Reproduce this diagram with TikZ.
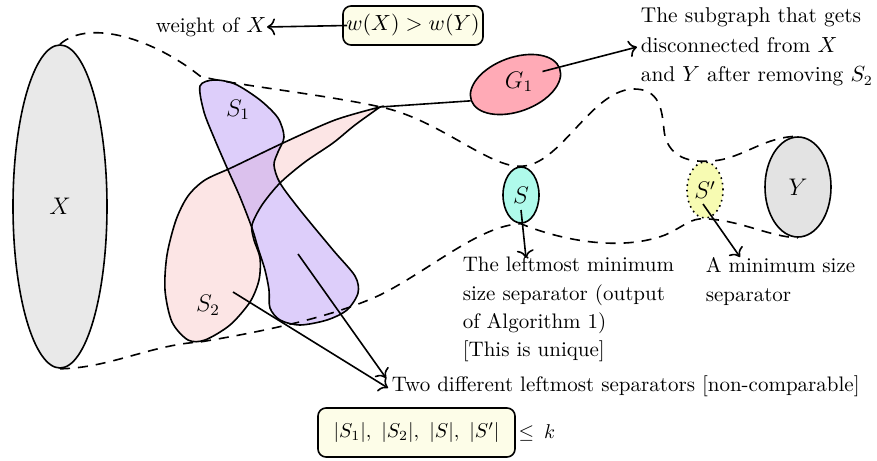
\documentclass[tikz,border=0pt]{standalone}
\usetikzlibrary{shapes.geometric,arrows.meta}
\definecolor{xgray}{RGB}{233,233,233}
\definecolor{ygray}{RGB}{227,227,227}
\definecolor{scyan}{RGB}{175,250,235}
\definecolor{spyel}{RGB}{247,251,178}
\definecolor{gpink}{RGB}{255,170,182}
\definecolor{stwo}{RGB}{252,229,229}
\definecolor{sone}{RGB}{188,158,245}
\definecolor{boxfill}{RGB}{253,253,232}
\begin{document}
\begin{tikzpicture}[x=0.5pt,y=-0.5pt,
  font=\fontsize{10.5}{14.2}\selectfont,
  line width=0.8pt,
  region/.style={ellipse, draw, inner sep=0pt, font=\fontsize{12}{14}\selectfont},
  arr/.style={-{To[scale=1.2]}},
  bound/.style={dash pattern=on 5pt off 4pt},
  note/.style={inner sep=0pt, align=left},
  cbox/.style={draw, rounded corners=4pt, fill=boxfill, inner sep=0pt}]
\useasboundingbox (0,0) rectangle (877,460);

% regions
\node[region, fill=xgray, minimum width=47pt, minimum height=161.5pt] (X) at (60,206.5) {$X$};
\node[region, fill=ygray, minimum width=33pt, minimum height=50pt] (Y) at (798,187) {$Y$};
\node[region, fill=scyan, minimum width=18pt, minimum height=28pt] (S) at (521,195) {$S$};
\node[region, fill=spyel, dotted, minimum width=18pt, minimum height=28pt] (Sp) at (705,190) {$S'$};
\node[region, fill=gpink, minimum width=47pt, minimum height=27pt, rotate=20] (G1) at (515.5,84.5) {};
\node[font=\fontsize{11.5}{14}\selectfont] (G1lab) at (519,82) {$G_1$};

% S2 and S1 fills
\fill[stwo] plot[smooth] coordinates {(380,107) (355,125) (333,143) (305,162) (280,183) (262,205) (252,225) (254,240) (260,258) (259,280) (250,302) (230,325) (205,340) (188,340) (172,322) (165,290) (167,255) (176,220) (188,196) (205,180) (233,167) (283,143) (335,120) (380,107)} -- cycle;
\fill[sone, fill opacity=0.5] plot[smooth cycle] coordinates {(200,86) (214,80) (235,84) (260,100) (278,118) (284,137) (278,152) (274,165) (280,183) (300,210) (333,250) (355,276) (358,293) (347,310) (327,320) (300,325) (280,320) (270,308) (269,290) (265,270) (258,248) (252,228) (240,197) (228,170) (215,140) (204,112)};
% outlines
\draw plot[smooth] coordinates {(380,107) (355,125) (333,143) (305,162) (280,183) (262,205) (252,225) (254,240) (260,258) (259,280) (250,302) (230,325) (205,340) (188,340) (172,322) (165,290) (167,255) (176,220) (188,196) (205,180) (233,167) (283,143) (335,120) (380,107)} -- cycle;
\draw plot[smooth cycle] coordinates {(200,86) (214,80) (235,84) (260,100) (278,118) (284,137) (278,152) (274,165) (280,183) (300,210) (333,250) (355,276) (358,293) (347,310) (327,320) (300,325) (280,320) (270,308) (269,290) (265,270) (258,248) (252,228) (240,197) (228,170) (215,140) (204,112)};
\node[font=\fontsize{11.5}{14}\selectfont] (s1lab) at (238,110) {$S_1$};
\node[font=\fontsize{11.5}{14}\selectfont] (s2lab) at (208,305) {$S_2$};

% dashed boundaries
\draw[bound] (X.north) .. controls (90,18) and (155,40) .. (200,76)
  .. controls (225,84) and (330,95) .. (385,108)
  .. controls (440,121) and (490,168) .. (S.north)
  .. controls (560,166) and (590,92) .. (632,89)
  .. controls (660,88) and (662,110) .. (664,130)
  .. controls (666,150) and (680,162) .. (Sp.north)
  .. controls (740,162) and (760,137) .. (Y.north);
\draw[bound] (X.south) .. controls (110,368) and (150,345) .. (200,342)
  .. controls (260,332) and (330,318) .. (380,295)
  .. controls (430,270) and (480,225) .. (S.south)
  .. controls (560,240) and (620,252) .. (665,235)
  .. controls (685,226) and (690,218) .. (Sp.south)
  .. controls (740,220) and (770,237) .. (Y.south);

% boxes and notes
\node[cbox, minimum width=70pt, minimum height=19.5pt] (wbox) at (413,25.5) {$w(X) > w(Y)$};
\node[anchor=east, inner sep=0pt] (wof) at (267,27) {weight of $X$};
\node[note, anchor=north west, font=\fontsize{10.7}{14.8}\selectfont] (sub) at (640,7) {The subgraph that gets\\disconnected from $X$\\and $Y$ after removing $S_2$};
\node[note, anchor=north west] (lm) at (462,256) {The leftmost minimum\\size separator (output\\of Algorithm 1)\\{}[This is unique]};
\node[note, anchor=north west] (ms) at (705,257) {A minimum size\\separator};
\node[anchor=west, inner sep=0pt] (two) at (391,386) {Two different leftmost separators [non-comparable]};
\node[cbox, minimum width=98.5pt, minimum height=24.5pt, font=\fontsize{10}{12}\selectfont] (cnt) at (416.5,432.5) {$|S_1|,~|S_2|,~|S|,~|S'|$};
\node[anchor=west, inner sep=1pt, font=\fontsize{10}{12}\selectfont] (lek) at (cnt.east) {$\leq$\enspace$k$};

% connectors
\coordinate (s2tip) at (380,107);
\coordinate (s1pt) at (298,254);
\coordinate (s2pt) at (233,292);
\draw (s2tip) -- (G1.west);
\draw[arr] ([xshift=2.5pt]wbox.west) -- (wof.east);
\draw[arr] ([xshift=13.5pt,yshift=6.5pt]G1.center) -- ([xshift=-1.5pt]sub.west);
\draw[arr] ([yshift=-7.5pt]S.center) -- ([xshift=32pt,yshift=-1pt]lm.north west);
\draw[arr] ([shift={(-1pt,-7pt)}]Sp.center) -- ([xshift=17.5pt]ms.north west);
\draw[arr] (s2pt) -- ([xshift=-1.5pt,yshift=-1pt]two.west);
\draw[arr] (s1pt) -- ([xshift=-2.5pt,yshift=4pt]two.west);
\end{tikzpicture}
\end{document}
